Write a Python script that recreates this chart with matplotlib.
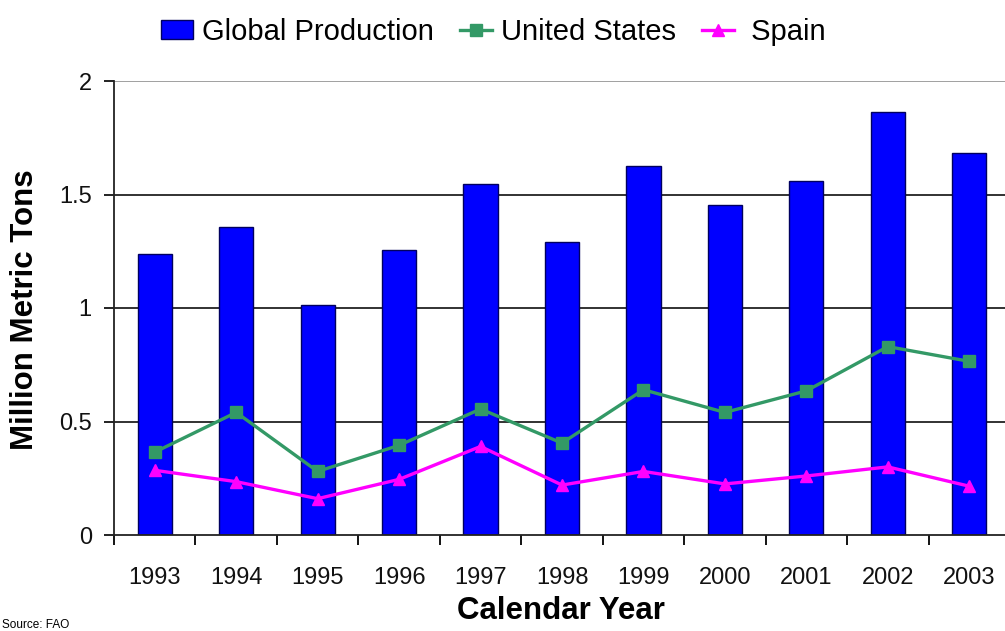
import numpy as np
import matplotlib.pyplot as plt

plt.rcParams['font.family'] = ['Liberation Sans', 'DejaVu Sans']

years = ['1993', '1994', '1995', '1996', '1997', '1998', '1999', '2000', '2001', '2002', '2003']
global_prod = [1.24, 1.355, 1.015, 1.255, 1.545, 1.29, 1.625, 1.455, 1.56, 1.865, 1.685]
united_states = [0.365, 0.54, 0.28, 0.395, 0.555, 0.405, 0.64, 0.54, 0.635, 0.83, 0.765]
spain = [0.285, 0.235, 0.16, 0.245, 0.39, 0.22, 0.28, 0.225, 0.26, 0.3, 0.215]
yticks = [0, 0.5, 1, 1.5, 2]

fig = plt.figure(figsize=(10.05, 6.31), dpi=100)
ax = fig.add_axes([114 / 1005, 96 / 631, 896 / 1005, 454 / 631])

x = np.arange(len(years))
bars = ax.bar(x, global_prod, width=0.42, color='#0000ff', edgecolor='#000060', linewidth=1, zorder=2, label='Global Production')
us, = ax.plot(x, united_states, color='#339966', lw=2.4, marker='s', ms=8, zorder=3, label='United States')
sp, = ax.plot(x, spain, color='#ff00ff', lw=2.4, marker='^', ms=9, zorder=4, label=' Spain')

ax.set_xlim(-0.5, len(years) - 0.5)
ax.set_ylim(0, 2)
ax.set_yticks(yticks)
ax.set_yticklabels(['0', '0.5', '1', '1.5', '2'])
for v in yticks[1:]:
    ax.axhline(v, color='#222222' if v < 2 else '#999999', lw=1.3, zorder=1)

ax.set_xticks(x)
ax.set_xticklabels(years)
ax.set_xticks(np.arange(-0.5, len(years)), minor=True)
ax.tick_params(axis='x', which='major', length=0, pad=23, labelsize=17, colors='#111111')
ax.tick_params(axis='x', which='minor', length=7, width=1.3, direction='out')
ax.tick_params(axis='y', length=7, width=1.3, pad=9, labelsize=17, colors='#111111')

for s in ['top', 'right']:
    ax.spines[s].set_visible(False)
for s in ['left', 'bottom']:
    ax.spines[s].set_linewidth(1.3)
    ax.spines[s].set_color('#222222')

fig.text(25 / 1005, 1 - 310 / 631, 'Million Metric Tons', rotation=90, ha='center', va='center',
         fontsize=22.5, fontweight='bold')
fig.text(561 / 1005, 1 - 611 / 631, 'Calendar Year', ha='center', va='center',
         fontsize=22.5, fontweight='bold')
fig.text(2 / 1005, 1 - 625 / 631, 'Source: FAO', ha='left', va='center', fontsize=8.5)

fig.legend(handles=[bars, us, sp], loc='center', bbox_to_anchor=(493 / 1005, 1 - 32 / 631), ncol=3,
           frameon=False, fontsize=21, handlelength=1.1, handleheight=0.6, handletextpad=0.3,
           columnspacing=0.9)

fig.savefig('out.png', dpi=100)
